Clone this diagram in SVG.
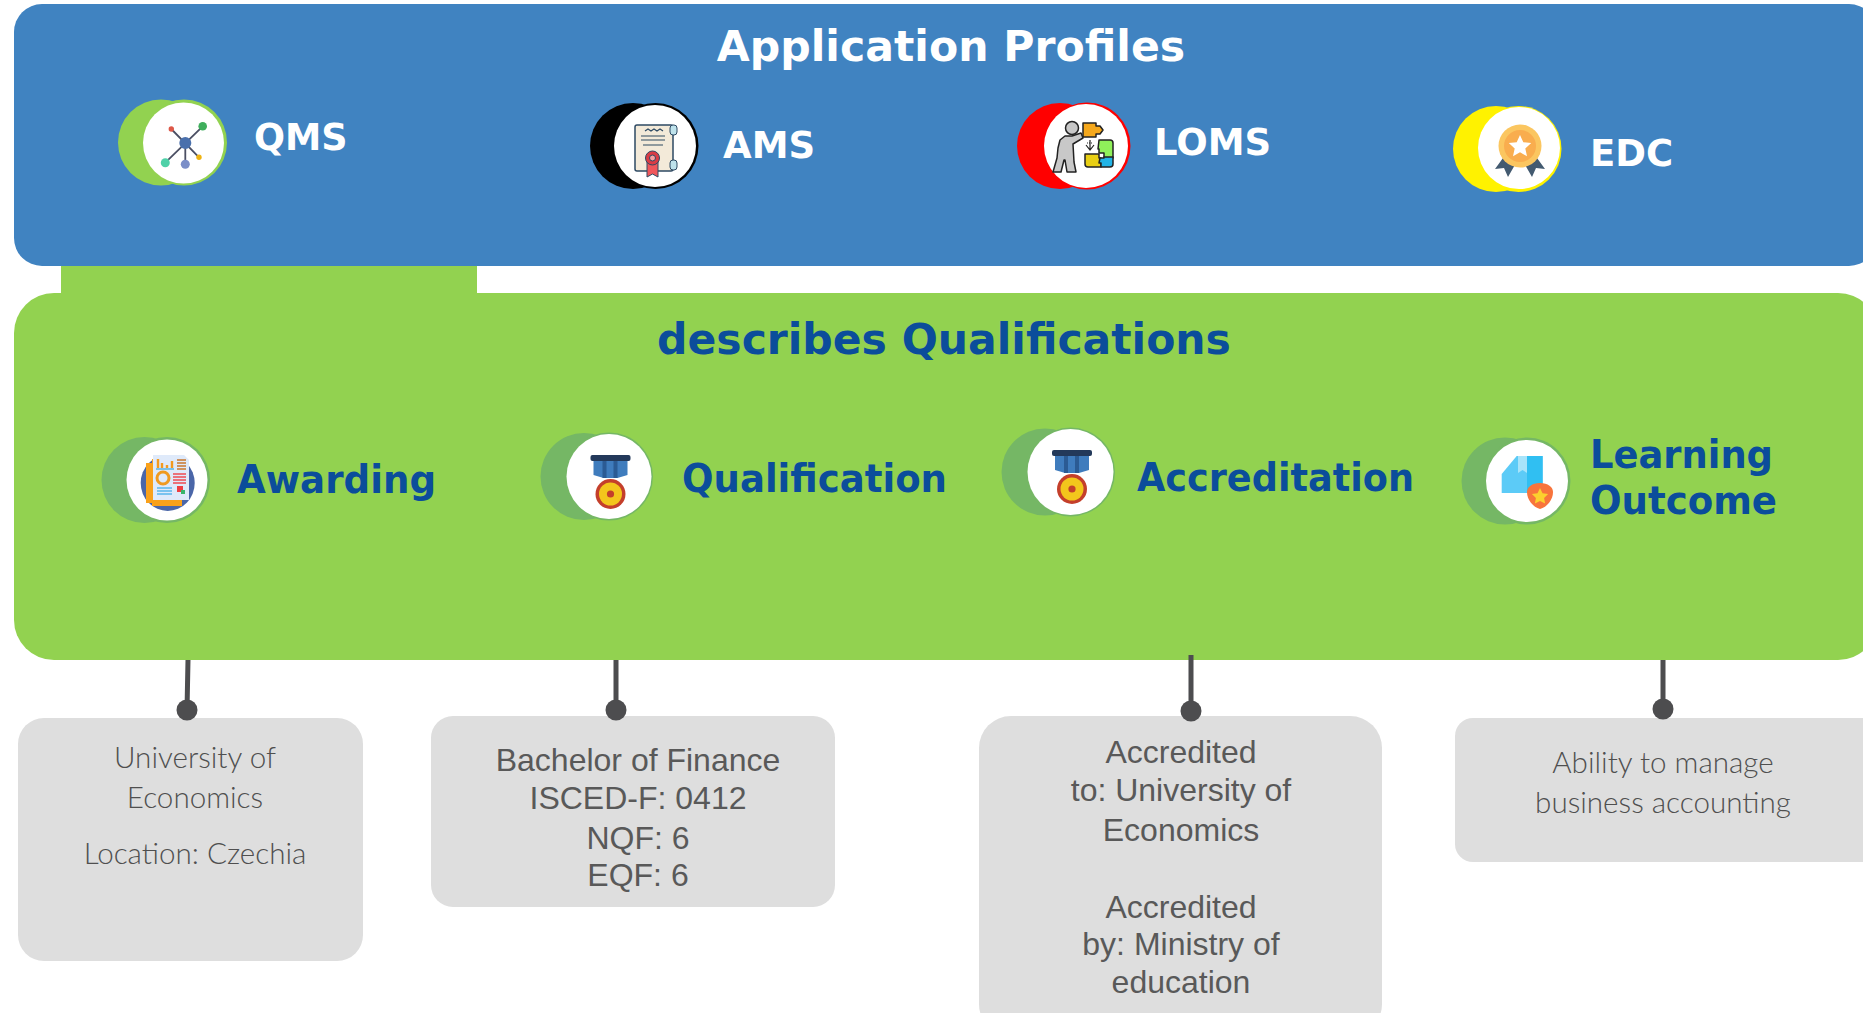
<svg xmlns="http://www.w3.org/2000/svg" width="1863" height="1013" viewBox="0 0 1863 1013">
<style>
.h{font-family:"DejaVu Sans",sans-serif;font-weight:700}
.w{fill:#fff}
.b{fill:#0b4d9b}
.c{font-family:"Lato","Open Sans",sans-serif;font-size:29.6px;font-weight:300;fill:#4f4f4f;text-anchor:middle}
.a{font-family:"Liberation Sans",Arial,sans-serif;font-size:32px;fill:#595959;text-anchor:middle}
.box{fill:#dedede}
.line{stroke:#4d4d4f;stroke-width:5;fill:none}
.dot{fill:#4d4d4f}
</style>
<defs>
<g id="medal">
<rect x="-20" y="-24" width="40" height="6" rx="2" fill="#23395a"/>
<path d="M-17-18H17V-4L7-1H-7L-17-4Z" fill="#3f7cbd"/>
<path d="M-8-18H-4V-1H-8ZM3-18H7V-1H3Z" fill="#2b5b94"/>
<circle cy="15" r="15" fill="#c43f2b"/>
<circle cy="15" r="11.500" fill="#f3c61c"/>
<circle cy="15" r="3.600" fill="#c43f2b"/>
</g>
</defs>
<rect width="1863" height="1013" fill="#fff"/>
<g id="application-profiles">
<rect x="14" y="4" width="1863" height="262" rx="28" fill="#4083c1"/>
<text class="h w" x="951" y="61" font-size="42.600" text-anchor="middle">Application Profiles</text>
</g>
<g id="tab"><rect x="61" y="266" width="416" height="40" fill="#92d250"/></g>
<g id="qualifications">
<rect x="14" y="293" width="1864" height="367" rx="40" fill="#92d250"/>
<text class="h b" x="944" y="354" font-size="42.500" text-anchor="middle">describes Qualifications</text>
</g>
<g id="connectors">
<path class="line" d="M188 660L187 710M616 660V710M1191 655V711M1663 660V709"/>
</g>
<g id="qms">
<circle cx="161" cy="142.500" r="43" fill="#92d250"/><circle cx="184" cy="142.500" r="43" fill="#92d250"/><circle cx="183.500" cy="143" r="40.500" fill="#fff"/>
<path d="M171.300 129L199 157.300M202.700 126.300L165.300 162.700M185.300 143V164" stroke="#4b4f63" stroke-width="1.800" fill="none"/>
<circle cx="185.300" cy="143" r="6" fill="#4a70ac"/><circle cx="171.300" cy="129" r="2.700" fill="#dd5848"/><circle cx="202.700" cy="126.300" r="4.300" fill="#3fae5c"/><circle cx="165.300" cy="162.700" r="4.500" fill="#4fd1a8"/><circle cx="185.300" cy="164.300" r="4.500" fill="#7b8ec8"/><circle cx="199" cy="157.300" r="2.700" fill="#efb310"/>
<text class="h w" x="254" y="150" font-size="36.500">QMS</text>
</g>
<g id="ams">
<circle cx="633" cy="146" r="43"/><circle cx="655.500" cy="146" r="43"/><circle cx="655" cy="146" r="41" fill="#fff"/>
<rect x="635" y="125" width="38" height="46" rx="2" fill="#f3ead9" stroke="#2e4a63" stroke-width="1.500"/>
<rect x="670" y="125" width="7" height="10" rx="3" fill="#bfe3ec" stroke="#2e4a63"/><rect x="670" y="160" width="7" height="10" rx="3" fill="#bfe3ec" stroke="#2e4a63"/>
<path d="M641 136h24M641 140h24M643 145h20M645 131l3-2 3 2 3-2 3 2 3-2 3 2" stroke="#2e4a63" stroke-width="1.200" fill="none"/>
<path d="M647 160h11v17l-5.500-3-5.500 3Z" fill="#f0565a" stroke="#2e4a63"/><circle cx="652.500" cy="158" r="7" fill="#d93c45" stroke="#2e4a63"/><circle cx="652.500" cy="158" r="3" fill="#f6a0a0" stroke="#2e4a63"/>
<text class="h w" x="723" y="158" font-size="37">AMS</text>
</g>
<g id="loms">
<circle cx="1060" cy="146" r="43" fill="#f00"/><circle cx="1087" cy="146" r="43.500" fill="#f00"/><circle cx="1086" cy="146" r="42" fill="#fff"/>
<g stroke="#222" stroke-width="1.500" stroke-linejoin="round">
<path d="M1083 123h13v3h4l3 4-3 4h-4v3h-13Z" fill="#f5a81c"/>
<circle cx="1072" cy="128" r="6.500" fill="#c8c8c8"/>
<path d="M1065 136h7l9-3 2 5-10 6 1 18 2 10h-9l-2-12h-1l-3 12h-8l4-14 1-10 2-8Z" fill="#c8c8c8"/>
<path d="M1099 140h11q3 0 3 3v15h-9v-5h-5v-4h-1Z" fill="#8ff05a"/>
<path d="M1085 154h14v4h2v9h-13q-3 0-3-3Z" fill="#e8cf14"/>
<path d="M1100 158h4v-1h9v7q0 3-3 3h-9v-4h-2Z" fill="#22b4e6"/>
</g>
<path d="M1090 140v9M1086 145l4 5 4-5" stroke="#222" fill="none" stroke-width="1.200"/>
<path d="M1087 143h6" stroke="#222" stroke-width="1" stroke-dasharray="1 1"/>
<text class="h w" x="1154" y="155" font-size="37">LOMS</text>
</g>
<g id="edc">
<circle cx="1496" cy="149" r="43" fill="#fff200"/><circle cx="1518.500" cy="149" r="43" fill="#fff200"/><circle cx="1519" cy="148" r="41" fill="#fff"/>
<path d="M1503 158l-8 11 9-1 4 9 8-14ZM1537 158l8 11-9-1-4 9-8-14Z" fill="#435a70"/>
<circle cx="1520" cy="146" r="21.500" fill="#fbc660"/><circle cx="1520" cy="146" r="16" fill="#f9ad4e"/>
<path d="M1520 135l3.300 7.300 7.900.800-5.900 5.300 1.700 7.800-7-4-7 4 1.700-7.800-5.900-5.300 7.900-.800Z" fill="#fff"/>
<text class="h w" x="1590" y="166" font-size="37">EDC</text>
</g>
<g id="awarding">
<circle cx="144.500" cy="480" r="43" fill="#75b765"/><circle cx="167" cy="480" r="43" fill="#75b765"/><circle cx="167" cy="480" r="40.500" fill="#fff"/>
<ellipse cx="167.700" cy="483" rx="27" ry="28" fill="#4a66a8"/>
<path d="M146 463h6v-4h30v47h-30v-3h-6Z" fill="#f9a11b"/>
<path d="M153 455h31l5 5v40H153Z" fill="#dfeafa"/>
<path d="M158 459v9M162 463v5M167 465v3M172 461v7" stroke="#f39a1f" stroke-width="2.400"/><path d="M156 469h18" stroke="#3aa6dc" stroke-width="1.200"/>
<path d="M177 460h9M177 463h9M177 466h9M177 469h9" stroke="#c9772e" stroke-width="1.500"/>
<path d="M173 474h13M173 477h13M173 480h13M173 483h13" stroke="#ef4b52" stroke-width="1.500"/>
<circle cx="163" cy="478" r="6" fill="none" stroke="#f09a20" stroke-width="3"/>
<path d="M157 488h15M157 491h15M157 494h15" stroke="#59b6ec" stroke-width="1.500"/>
<rect x="177" y="486" width="6" height="6" fill="#ef3e42"/><rect x="181" y="490" width="4" height="4" fill="#3ab56b"/>
<text class="h b" x="237" y="493" font-size="38.500" textLength="199" lengthAdjust="spacingAndGlyphs">Awarding</text>
</g>
<g id="qualification">
<circle cx="584" cy="476.500" r="43.500" fill="#75b765"/><circle cx="609" cy="476.500" r="44" fill="#75b765"/><circle cx="609" cy="476.500" r="42.500" fill="#fff"/>
<use href="#medal" x="610.500" y="479"/>
<text class="h b" x="682" y="492" font-size="38.500" textLength="265" lengthAdjust="spacingAndGlyphs">Qualification</text>
</g>
<g id="accreditation">
<circle cx="1045" cy="472" r="43.500" fill="#75b765"/><circle cx="1070.500" cy="472" r="44.500" fill="#75b765"/><circle cx="1070.500" cy="472" r="43" fill="#fff"/>
<use href="#medal" x="1072" y="474"/>
<text class="h b" x="1137" y="491" font-size="38.500" textLength="277" lengthAdjust="spacingAndGlyphs">Accreditation</text>
</g>
<g id="learning-outcome">
<circle cx="1505" cy="481" r="43.500" fill="#75b765"/><circle cx="1527" cy="481" r="43.500" fill="#75b765"/><circle cx="1527" cy="481" r="41" fill="#fff"/>
<path d="M1501.700 474l15-18h26v37h-41Z" fill="#5ccbf7"/><path d="M1527 456h15.600v37H1527Z" fill="#30bff2"/><path d="M1518 456h9v17l-4.500-3-4.500 3Z" fill="#a8e4fa"/>
<path d="M1540 483c8 0 13 4 13 9 0 8-6 15-13 17-7-2-13-9-13-17 0-5 5-9 13-9Z" fill="#f8743c"/>
<path d="M1540 488l2.500 5.200 5.600.800-4 4 1 5.600-5.100-2.700-5.100 2.700 1-5.600-4-4 5.600-.800Z" fill="#fcd02e"/>
<text class="h b" x="1590" y="468" font-size="38.500" textLength="183" lengthAdjust="spacingAndGlyphs">Learning</text>
<text class="h b" x="1590" y="514" font-size="38.500" textLength="187" lengthAdjust="spacingAndGlyphs">Outcome</text>
</g>
<g id="detail-awarding">
<rect class="box" x="18" y="718" width="345" height="243" rx="26"/>
<circle class="dot" cx="187" cy="710" r="10.500"/>
<text class="c" x="195" y="768">University of</text>
<text class="c" x="195" y="808">Economics</text>
<text class="c" x="195" y="864">Location: Czechia</text>
</g>
<g id="detail-qualification">
<rect class="box" x="431" y="716" width="404" height="191" rx="22"/>
<circle class="dot" cx="616" cy="710" r="10.500"/>
<text class="a" x="638" y="771">Bachelor of Finance</text>
<text class="a" x="638" y="809">ISCED-F: 0412</text>
<text class="a" x="638" y="849">NQF: 6</text>
<text class="a" x="638" y="886">EQF: 6</text>
</g>
<g id="detail-accreditation">
<rect class="box" x="979" y="716" width="403" height="320" rx="32"/>
<circle class="dot" cx="1191" cy="711" r="10.500"/>
<text class="a" x="1181" y="763">Accredited</text>
<text class="a" x="1181" y="801">to: University of</text>
<text class="a" x="1181" y="841">Economics</text>
<text class="a" x="1181" y="918">Accredited</text>
<text class="a" x="1181" y="955">by: Ministry of</text>
<text class="a" x="1181" y="993">education</text>
</g>
<g id="detail-learning-outcome">
<rect class="box" x="1455" y="718" width="460" height="144" rx="18"/>
<circle class="dot" cx="1663" cy="709" r="10.500"/>
<text class="c" x="1663" y="773">Ability to manage</text>
<text class="c" x="1663" y="813">business accounting</text>
</g>
</svg>
